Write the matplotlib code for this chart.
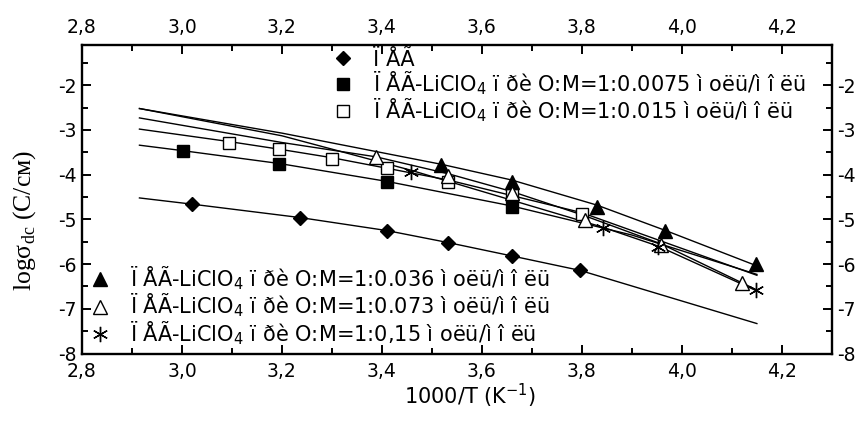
import matplotlib
matplotlib.use("Agg")
from matplotlib import pyplot as plt
from matplotlib.lines import Line2D
from matplotlib.ticker import MultipleLocator, FuncFormatter

plt.rcParams['font.family'] = ['DejaVu Sans']

# measured points (1000/T, log sigma_dc)
peo_x = [3.021, 3.237, 3.41, 3.533, 3.661, 3.796]
peo_y = [-4.66, -4.97, -5.26, -5.53, -5.82, -6.14]
s0075_x = [3.002, 3.195, 3.41, 3.661]
s0075_y = [-3.47, -3.75, -4.16, -4.72]
s015_x = [3.095, 3.195, 3.30, 3.41, 3.533, 3.661, 3.80]
s015_y = [-3.28, -3.43, -3.64, -3.86, -4.16, -4.46, -4.87]
s036_x = [3.519, 3.661, 3.831, 3.967, 4.148]
s036_y = [-3.79, -4.16, -4.72, -5.26, -5.99]
s073_x = [3.388, 3.533, 3.661, 3.806, 3.959, 4.121]
s073_y = [-3.615, -4.03, -4.42, -5.02, -5.58, -6.43]
s15_x = [3.458, 3.843, 3.953, 4.148]
s15_y = [-3.94, -5.20, -5.62, -6.58]

# fitted curves
fit_peo_x = [2.915, 3.021, 3.237, 3.41, 3.533, 3.661, 3.796, 4.15]
fit_peo_y = [-4.52, -4.66, -4.96, -5.25, -5.52, -5.82, -6.14, -7.33]
fit_0075_x = [2.915, 3.0, 3.195, 3.41, 3.66, 3.9, 4.15]
fit_0075_y = [-3.34, -3.46, -3.75, -4.15, -4.70, -5.35, -6.23]
fit_015_x = [2.915, 3.095, 3.195, 3.30, 3.533, 3.80, 4.15]
fit_015_y = [-2.98, -3.26, -3.43, -3.62, -4.12, -4.85, -6.25]
fit_036_x = [2.915, 3.2, 3.52, 3.66, 3.83, 3.97, 4.15]
fit_036_y = [-2.52, -3.07, -3.77, -4.12, -4.68, -5.26, -6.04]
fit_073_x = [2.915, 3.2, 3.388, 3.533, 3.661, 3.806, 3.959, 4.15]
fit_073_y = [-2.73, -3.28, -3.60, -3.98, -4.38, -4.92, -5.55, -6.58]
fit_15_x = [2.915, 3.2, 3.458, 3.843, 3.953, 4.15]
fit_15_y = [-2.52, -3.13, -3.90, -5.18, -5.60, -6.60]

sub4 = "$_{\\mathregular{4}}$"
labels = [
    "Ï ÅÃ",
    "Ï ÅÃ-LiClO" + sub4 + " ï ðè O:M=1:0.0075 ì oëü/ì î ëü",
    "Ï ÅÃ-LiClO" + sub4 + " ï ðè O:M=1:0.015 ì oëü/ì î ëü",
    "Ï ÅÃ-LiClO" + sub4 + " ï ðè O:M=1:0.036 ì oëü/ì î ëü",
    "Ï ÅÃ-LiClO" + sub4 + " ï ðè O:M=1:0.073 ì oëü/ì î ëü",
    "Ï ÅÃ-LiClO" + sub4 + " ï ðè O:M=1:0,15 ì oëü/ì î ëü",
]

styles = [
    dict(marker='D', ms=7.5, mfc='black', mec='black'),
    dict(marker='s', ms=8.5, mfc='black', mec='black'),
    dict(marker='s', ms=8.5, mfc='white', mec='black', mew=1),
    dict(marker='^', ms=10.5, mfc='black', mec='black'),
    dict(marker='^', ms=10.5, mfc='white', mec='black', mew=1),
    dict(marker=(6, 2, 0), ms=11, mfc='black', mec='black', mew=1),
]

fig = plt.figure(figsize=(8.6, 4.32), dpi=100)
ax = fig.add_axes([0.0953, 0.1817, 0.872, 0.714])

fits = [(fit_peo_x, fit_peo_y), (fit_0075_x, fit_0075_y), (fit_015_x, fit_015_y),
        (fit_036_x, fit_036_y), (fit_073_x, fit_073_y), (fit_15_x, fit_15_y)]
for fx, fy in fits:
    ax.plot(fx, fy, color='black', lw=1.0, zorder=2)

pts = [(peo_x, peo_y), (s0075_x, s0075_y), (s015_x, s015_y),
       (s036_x, s036_y), (s073_x, s073_y), (s15_x, s15_y)]
for (px, py), st in zip(pts, styles):
    ax.plot(px, py, ls='none', zorder=3, **st)

ax.set_xlim(2.8, 4.3)
ax.set_ylim(-8, -1.1)
ax.xaxis.set_major_locator(MultipleLocator(0.2))
ax.xaxis.set_minor_locator(MultipleLocator(0.1))
ax.yaxis.set_major_locator(MultipleLocator(1))
ax.yaxis.set_minor_locator(MultipleLocator(0.5))
ax.xaxis.set_major_formatter(FuncFormatter(lambda v, p: f"{v:.1f}".replace('.', ',')))
ax.yaxis.set_major_formatter(FuncFormatter(lambda v, p: f"{v:.0f}"))

ax.tick_params(which='both', direction='in', top=True, right=True,
               labeltop=True, labelright=True, labelsize=13.5, width=1.4, pad=4)
ax.tick_params(axis='x', which='major', pad=6)
ax.tick_params(which='major', length=6.5)
ax.tick_params(which='minor', length=4)
for sp in ax.spines.values():
    sp.set_linewidth(1.7)

ax.set_xlabel("1000/T (K$^{\\mathregular{-1}}$)", fontsize=15)
ax.xaxis.set_label_coords(0.517, -0.093)
ax.set_ylabel("logσ$_{\\mathregular{dc}}$ (С/см)", fontsize=18.5, family='Liberation Serif')
ax.yaxis.set_label_coords(-0.058, 0.433)

handles = [Line2D([], [], ls='none', **st) for st in styles]
leg_kw = dict(frameon=False, fontsize=15, handlelength=1.0, handletextpad=0.94,
              labelspacing=-0.02, borderpad=0, borderaxespad=0)
leg1 = ax.legend(handles[:3], labels[:3], loc='upper left',
                 bbox_to_anchor=(0.334, 0.985), **leg_kw)
ax.add_artist(leg1)
ax.legend(handles[3:], labels[3:], loc='upper left',
          bbox_to_anchor=(0.0101, 0.288), **leg_kw)

fig.savefig("out.png", dpi=100)
